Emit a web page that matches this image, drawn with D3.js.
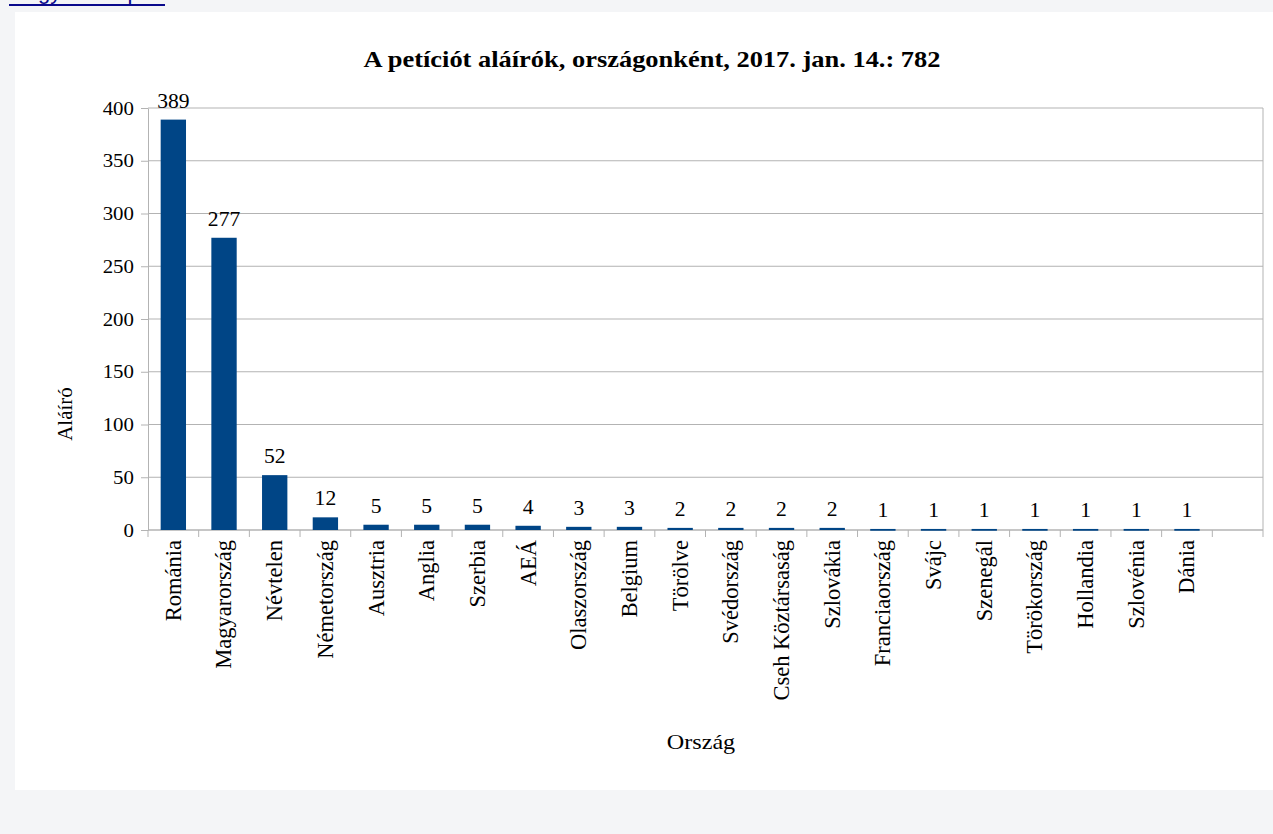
<!DOCTYPE html>
<html>
<head>
<meta charset="utf-8">
<script src="https://cdn.jsdelivr.net/npm/d3@7"></script>
<style>
  html, body { margin: 0; padding: 0; background: #f4f5f7; }
  svg { display: block; }
</style>
</head>
<body>
<svg id="chart" width="1273" height="834"></svg>
<script>
const categories = ["Románia","Magyarország","Névtelen","Németország","Ausztria","Anglia","Szerbia","AEÁ","Olaszország","Belgium","Törölve","Svédország","Cseh Köztársaság","Szlovákia","Franciaország","Svájc","Szenegál","Törökország","Hollandia","Szlovénia","Dánia",""];
const values = [389,277,52,12,5,5,5,4,3,3,2,2,2,2,1,1,1,1,1,1,1,null];
const yTicks = [0,50,100,150,200,250,300,350,400];
const titleText = "A petíciót aláírók, országonként, 2017. jan. 14.: 782";
const xTitle = "Ország";
const yTitle = "Aláíró";

const svg = d3.select("#chart");
const serif = "'Liberation Serif','Times New Roman',serif";

// page background + white panel
svg.append("rect").attr("x",0).attr("y",0).attr("width",1273).attr("height",834).attr("fill","#f4f5f7");
svg.append("rect").attr("x",15).attr("y",12).attr("width",1258).attr("height",778).attr("fill","#ffffff");

// cut-off link at top-left
svg.append("text").attr("x",10).attr("y",-1).attr("font-family","'Liberation Sans',Arial,sans-serif")
  .attr("font-size",22).attr("fill","#0a0a8c").text("Nagyobb képhez");
svg.append("rect").attr("x",9).attr("y",4).attr("width",156).attr("height",2).attr("fill","#0a0a8c");

const L = 148, R = 1263, T = 108, B = 530;
const x = d3.scaleBand().domain(d3.range(categories.length)).range([L, R]).paddingInner(0.5).paddingOuter(0.25);
const y = d3.scaleLinear().domain([0, 400]).range([B, T]);
const step = x.step();

// horizontally stretched text helper
function stext(g, tx, ty, txt, size, sx, anchor, weight) {
  g.append("text")
    .attr("transform", `translate(${tx},${ty}) scale(${sx},1)`)
    .attr("font-family", serif).attr("font-size", size)
    .attr("font-weight", weight || "normal")
    .attr("text-anchor", anchor).attr("fill", "#000").text(txt);
}

// gridlines
svg.append("g").selectAll("line").data(yTicks).join("line")
  .attr("x1", L).attr("x2", R).attr("y1", d => y(d)).attr("y2", d => y(d))
  .attr("stroke", "#b3b3b3").attr("stroke-width", 1);

// right wall border
svg.append("line").attr("x1", R).attr("x2", R).attr("y1", T).attr("y2", B).attr("stroke", "#b3b3b3");

// y axis
const yAxis = d3.axisLeft(y).tickValues(yTicks).tickSize(7).tickSizeOuter(0).tickFormat("");
const gy = svg.append("g").attr("transform", `translate(${L},0)`).call(yAxis);
gy.selectAll("line, path").attr("stroke", "#b3b3b3");
const gyl = svg.append("g");
yTicks.forEach(t => stext(gyl, 134, y(t) + 6.5, String(t), 18.5, 1.13, "end"));

// x axis line and ticks at band boundaries
svg.append("line").attr("x1", L).attr("x2", R).attr("y1", B).attr("y2", B).attr("stroke", "#b3b3b3");
svg.append("g").selectAll("line").data(d3.range(categories.length + 1)).join("line")
  .attr("x1", i => L + i * step).attr("x2", i => L + i * step)
  .attr("y1", B).attr("y2", B + 7).attr("stroke", "#b3b3b3");

// bars
const data = categories.map((c, i) => ({c, i, v: values[i]})).filter(d => d.v != null);
svg.append("g").selectAll("rect").data(data).join("rect")
  .attr("x", d => x(d.i)).attr("width", x.bandwidth())
  .attr("y", d => y(d.v)).attr("height", d => Math.max(1.8, B - y(d.v)))
  .attr("fill", "#004586");

// value labels
const gv = svg.append("g");
data.forEach(d => stext(gv, x(d.i) + x.bandwidth() / 2, y(d.v) - 12, String(d.v), 20, 1.08, "middle"));

// category labels (rotated)
svg.append("g").selectAll("text").data(categories.map((c, i) => ({c, i}))).join("text")
  .attr("transform", d => `translate(${x(d.i) + x.bandwidth() / 2},${B + 10}) rotate(-90)`)
  .attr("dy", "0.33em")
  .attr("text-anchor", "end").attr("font-family", serif).attr("font-size", 22.5)
  .attr("fill", "#000").text(d => d.c);

// title
stext(svg, 652, 67, titleText, 23, 1.15, "middle", "bold");

// axis titles
stext(svg, 701, 749, xTitle, 21, 1.15, "middle");
svg.append("text").attr("transform", "translate(72,414) rotate(-90)")
  .attr("text-anchor", "middle").attr("font-family", serif).attr("font-size", 21)
  .attr("fill", "#000").text(yTitle);
</script>
</body>
</html>
